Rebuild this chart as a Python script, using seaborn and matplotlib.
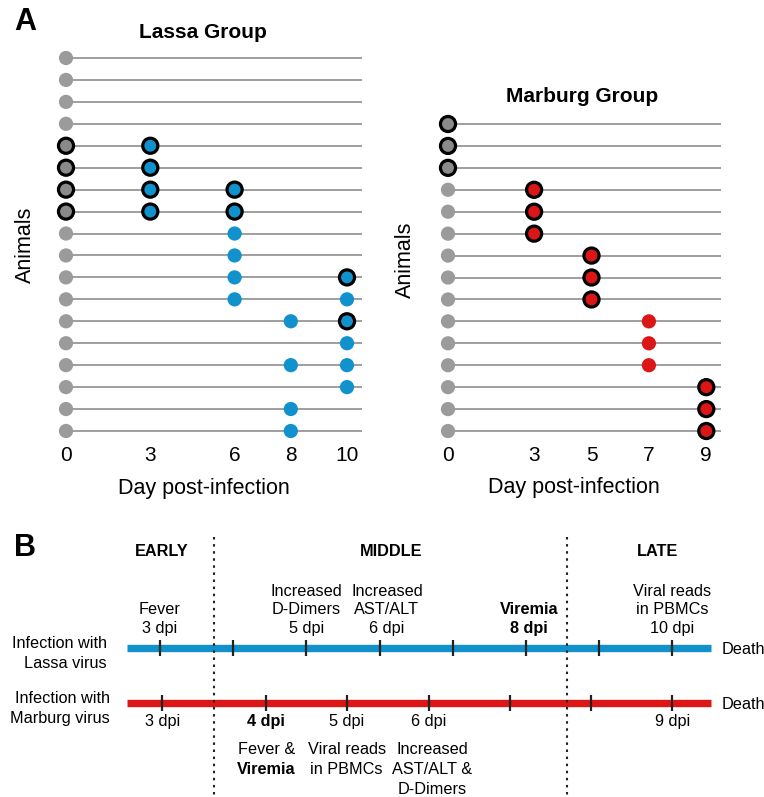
import numpy as np
import pandas as pd
import matplotlib
matplotlib.use("Agg")
import matplotlib.pyplot as plt
import matplotlib.transforms as mtransforms
import seaborn as sns

# ---------------- data ----------------
# Panel A: Lassa group (animal row, day, outlined?)
lassa_animal = [1, 2, 3, 4, 5, 5, 6, 6, 7, 7, 7, 8, 8, 8, 9, 9, 10, 10,
                11, 11, 11, 12, 12, 12, 13, 13, 13, 14, 14, 15, 15, 15,
                16, 16, 17, 17, 18, 18]
lassa_day = [0, 0, 0, 0, 0, 3, 0, 3, 0, 3, 6, 0, 3, 6, 0, 6, 0, 6,
             0, 6, 10, 0, 6, 10, 0, 8, 10, 0, 10, 0, 8, 10,
             0, 10, 0, 8, 0, 8]
lassa_outlined = [0, 0, 0, 0, 1, 1, 1, 1, 1, 1, 1, 1, 1, 1, 0, 0, 0, 0,
                  0, 0, 1, 0, 0, 0, 0, 0, 1, 0, 0, 0, 0, 0,
                  0, 0, 0, 0, 0, 0]
lassa_ticks = [0, 3, 6, 8, 10]
lassa_n = 18
lassa_line_end = 10.55

# Panel A: Marburg group
marburg_animal = [1, 2, 3, 4, 4, 5, 5, 6, 6, 7, 7, 8, 8, 9, 9,
                  10, 10, 11, 11, 12, 12, 13, 13, 14, 14, 15, 15]
marburg_day = [0, 0, 0, 0, 3, 0, 3, 0, 3, 0, 5, 0, 5, 0, 5,
               0, 7, 0, 7, 0, 7, 0, 9, 0, 9, 0, 9]
marburg_outlined = [1, 1, 1, 0, 1, 0, 1, 0, 1, 0, 1, 0, 1, 0, 1,
                    0, 0, 0, 0, 0, 0, 0, 1, 0, 1, 0, 1]
marburg_ticks = [0, 3, 5, 7, 9]
marburg_n = 15
marburg_line_end = 9.5

# Panel B: timelines (positions in timeline units)
timeline_span = [2.55, 10.53]
phase_names = ["EARLY", "MIDDLE", "LATE"]
phase_centers = [3.03, 6.16, 9.79]
phase_bounds = [3.74, 8.56]

lassa_tick_pos = [3, 4, 5, 6, 7, 8, 9, 10]
lassa_event_x = [3, 5, 6.1, 8.04, 10]
lassa_event_lines = [["Fever", "3 dpi"],
                     ["Increased", "D-Dimers", "5 dpi"],
                     ["Increased", "AST/ALT", "6 dpi"],
                     ["Viremia", "8 dpi"],
                     ["Viral reads", "in PBMCs", "10 dpi"]]
lassa_event_bold = [False, False, False, True, False]

marburg_tick_pos = [3.03, 4.45, 5.55, 6.67, 7.78, 8.89, 10.0]
marburg_dpi_x = [3.03, 4.45, 5.55, 6.67, 10.0]
marburg_dpi_labels = ["3 dpi", "4 dpi", "5 dpi", "6 dpi", "9 dpi"]
marburg_dpi_bold = [False, True, False, False, False]
marburg_desc_x = [4.45, 5.55, 6.72]
marburg_desc_lines = [[("Fever &", False), ("Viremia", True)],
                      [("Viral reads", False), ("in PBMCs", False)],
                      [("Increased", False), ("AST/ALT &", False), ("D-Dimers", False)]]

GRAY = "#9b9b9b"
GRAY_OUT = "#8a8a8a"
BLUE = "#1192cd"
RED = "#dc1616"
LINE_GRAY = "#9e9e9e"

# ---------------- style ----------------
sns.set_theme(style="white")
plt.rcParams['font.family'] = ['Liberation Sans', 'DejaVu Sans']
plt.rcParams['text.color'] = 'black'
plt.rcParams['xtick.color'] = 'black'
plt.rcParams['xtick.labelcolor'] = 'black'

W, H = 764, 797
fig = plt.figure(figsize=(W / 100, H / 100), dpi=100)


def fx(px):
    return px / W


def fy(py):
    return 1 - py / H


def dot_panel(ax, animal, day, outlined, n, ticks, line_end, color):
    df = pd.DataFrame({"animal": animal, "day": day, "outlined": outlined})
    df["state"] = np.where(df["day"] == 0,
                           np.where(df["outlined"] == 1, "base_out", "base"),
                           "inf")
    pal = {"base": GRAY, "base_out": GRAY_OUT, "inf": color}
    rows = np.arange(1, n + 1)
    ax.hlines(rows, 0, line_end, color=LINE_GRAY, lw=1.4, zorder=1)
    plain = df[df["outlined"] == 0]
    outl = df[df["outlined"] == 1]
    sns.scatterplot(data=plain, x="day", y="animal", hue="state", palette=pal,
                    s=105, linewidth=0, legend=False, ax=ax, zorder=3)
    sns.scatterplot(data=outl, x="day", y="animal", hue="state", palette=pal,
                    s=118, edgecolor="black", linewidth=2.3, legend=False,
                    ax=ax, zorder=4)
    ax.set_xlim(-1, ticks[-1] + 1 if ticks[-1] == 9 else 11)
    ax.set_ylim(n + 0.6, 0.4)
    ax.set_xticks(ticks)
    ax.set_xticklabels([str(t) for t in ticks], fontsize=15, color="black")
    ax.set_yticks([])
    ax.set_xlabel("")
    ax.set_ylabel("")
    ax.tick_params(axis="x", length=0, pad=1)
    for sp in ax.spines.values():
        sp.set_visible(False)
    ax.patch.set_alpha(0)


# Lassa axes: day0 at px 66, 28.1 px/day; row1 at 58, 21.94 px/row
l_left = 66 - 28.1
l_right = 66 + 11 * 28.1
l_top = 58 - 0.6 * 21.94
l_bot = 58 + 17.6 * 21.94
ax_l = fig.add_axes([fx(l_left), fy(l_bot), fx(l_right - l_left), (l_bot - l_top) / H])
dot_panel(ax_l, lassa_animal, lassa_day, lassa_outlined, lassa_n, lassa_ticks,
          lassa_line_end, BLUE)

# Marburg axes: day0 at 448, 28.7 px/day; row1 at 124, 21.93 px/row
m_left = 448 - 28.7
m_right = 448 + 10 * 28.7
m_top = 124 - 0.6 * 21.93
m_bot = 124 + 14.6 * 21.93
ax_m = fig.add_axes([fx(m_left), fy(m_bot), fx(m_right - m_left), (m_bot - m_top) / H])
dot_panel(ax_m, marburg_animal, marburg_day, marburg_outlined, marburg_n,
          marburg_ticks, marburg_line_end, RED)

# Panel A texts
fig.text(fx(25), fy(22), "A", fontsize=22, fontweight="bold", ha="center", va="center")
fig.text(fx(203), fy(33), "Lassa Group", fontsize=15, fontweight="bold", ha="center", va="center")
fig.text(fx(582), fy(97), "Marburg Group", fontsize=15, fontweight="bold", ha="center", va="center")
fig.text(fx(25), fy(245), "Animals", fontsize=15.5, rotation=90, ha="center", va="center")
fig.text(fx(405), fy(260), "Animals", fontsize=15.5, rotation=90, ha="center", va="center")
fig.text(fx(204), fy(488), "Day post-infection", fontsize=15.5, ha="center", va="center")
fig.text(fx(574), fy(487), "Day post-infection", fontsize=15.5, ha="center", va="center")

# ---------------- Panel B ----------------
b_top = 530
ax_b = fig.add_axes([0, 0, 1, (H - b_top) / H])
ppd = 73.2
x0 = 3 - 160 / ppd
x1 = 3 + (W - 160) / ppd
ax_b.set_xlim(x0, x1)
ppr = 55.0
ax_b.set_ylim((H - 648) / ppr, (b_top - 648) / ppr)
ax_b.axis("off")

FS = 11.7


def tl_text(x, row, dy_px, s, bold=False, ha="center", va="baseline", dx_px=0):
    tr = mtransforms.offset_copy(ax_b.transData, fig=fig, x=dx_px, y=-dy_px, units="dots")
    ax_b.text(x, row, s, transform=tr, fontsize=FS, ha=ha, va=va,
              fontweight="bold" if bold else "normal", color="black")


# phase boundaries
ax_b.vlines(phase_bounds, (537 - 648) / ppr, (H - 648) / ppr, color="#222222",
            lw=1.5, linestyles=(0, (1.2, 2.2)), zorder=5)
for name, cx in zip(phase_names, phase_centers):
    tl_text(cx, 0, -92, name, bold=True)

# timelines
ax_b.hlines([0, 1], timeline_span[0], timeline_span[1], colors=[BLUE, RED], lw=5.3, zorder=2)
ax_b.vlines(lassa_tick_pos, -0.15, 0.15, color="#222222", lw=1.6, zorder=3)
ax_b.vlines(marburg_tick_pos, 1 - 0.15, 1 + 0.15, color="#222222", lw=1.6, zorder=3)

# left labels and Death
tl_text(timeline_span[0], 0, 0, "Infection with", ha="right", dx_px=-20)
tl_text(timeline_span[0], 0, 20, "Lassa virus", ha="right", dx_px=-20)
tl_text(timeline_span[0], 1, 0, "Infection with", ha="right", dx_px=-17)
tl_text(timeline_span[0], 1, 20, "Marburg virus", ha="right", dx_px=-17)
tl_text(timeline_span[1], 0, 6, "Death", ha="left", dx_px=10)
tl_text(timeline_span[1], 1, 6, "Death", ha="left", dx_px=10)

# Lassa events (above)
for x, lines, b in zip(lassa_event_x, lassa_event_lines, lassa_event_bold):
    nl = len(lines)
    for k, s in enumerate(lines):
        tl_text(x, 0, -14.5 - 19 * (nl - 1 - k), s, bold=b)

# Marburg events (below)
for x, s, b in zip(marburg_dpi_x, marburg_dpi_labels, marburg_dpi_bold):
    tl_text(x, 1, 23, s, bold=b)
for x, lines in zip(marburg_desc_x, marburg_desc_lines):
    for k, (s, b) in enumerate(lines):
        tl_text(x, 1, 51 + 20 * k, s, bold=b)

fig.text(fx(25), fy(548), "B", fontsize=22, fontweight="bold", ha="center", va="center")

fig.savefig("out.png", dpi=100)
